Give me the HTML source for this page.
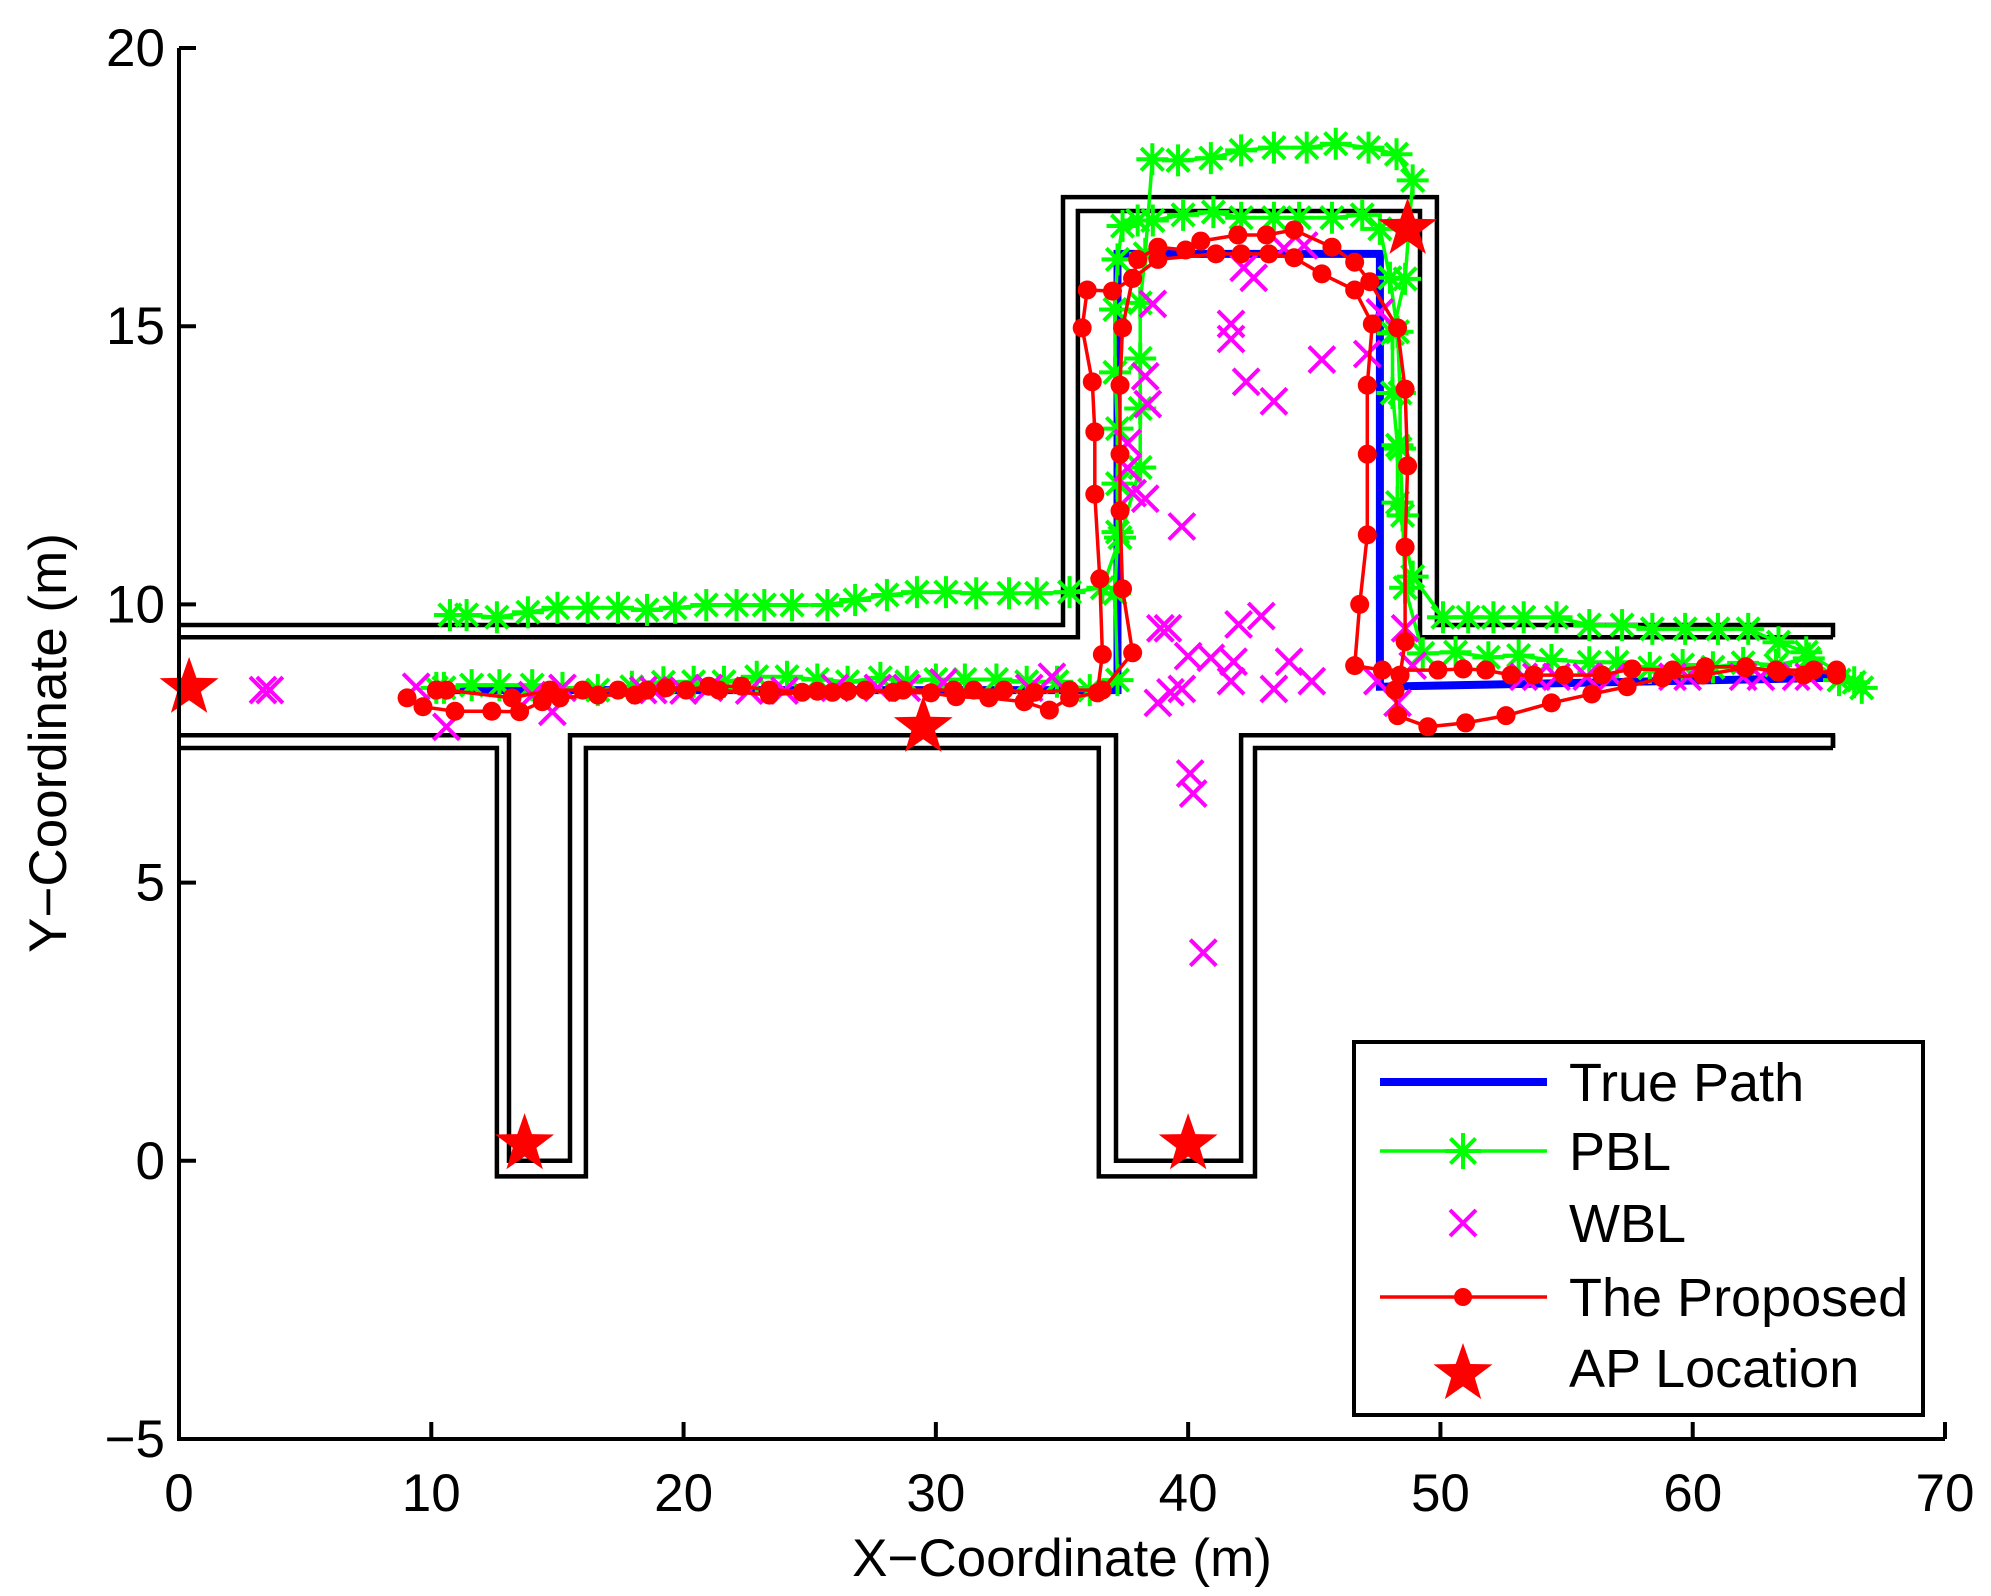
<!DOCTYPE html>
<html><head><meta charset="utf-8"><style>
html,body{margin:0;padding:0;background:#fff;}
svg{display:block;font-family:"Liberation Sans",Arial,sans-serif;}
</style></head><body>
<svg id="chart" width="1991" height="1596" viewBox="0 0 1991 1596" xmlns="http://www.w3.org/2000/svg">
<rect width="1991" height="1596" fill="#fff"/>
<g id="walls"></g>
<g id="series"></g>
<g id="axes"></g>
<g id="legend"></g>
</svg>
<script>
const xTicks=[0,10,20,30,40,50,60,70];
const yTicks=[-5,0,5,10,15,20];
const truePathX=[10,37.2,37.2,47.6,47.6,65.6];
const truePathY=[8.46,8.46,16.3,16.3,8.52,8.68];
const pblAX=[10.74,11.4,12.6,13.83,15.0,16.2,17.4,18.55,19.66,20.9,22.1,23.2,24.3,25.7,26.8,28.06,29.25,30.4,31.6,32.9,34.0,35.3,36.6,37.3,38.1,38.1,38.1,38.1,38.3,38.58,39.6,40.9,42.1,43.4,44.7,45.85,47.15,48.26,48.9,48.6,48.1,48.1,48.3,48.3,48.9,50.1,51.1,52.1,53.3,54.6,55.9,57.2,58.4,59.7,61.0,62.2,63.4,64.5,66.4];
const pblAY=[9.81,9.81,9.77,9.86,9.94,9.94,9.94,9.9,9.94,9.99,9.99,9.99,9.99,9.99,10.08,10.17,10.22,10.22,10.2,10.2,10.2,10.22,10.3,11.2,12.46,13.52,14.42,15.42,16.3,18.0,17.98,18.02,18.16,18.21,18.21,18.28,18.21,18.09,17.62,15.85,14.87,13.8,12.86,11.83,10.5,9.77,9.77,9.77,9.77,9.77,9.63,9.63,9.56,9.56,9.56,9.56,9.32,9.14,8.6];
const pblBX=[10.2,10.5,11.6,12.7,14.0,15.2,16.6,17.95,19.2,20.4,21.6,22.9,24.1,25.3,26.5,27.8,28.85,30.0,31.15,32.4,33.6,34.8,36.1,37.2,37.1,37.2,37.2,37.2,37.1,37.1,37.2,37.4,38.0,38.6,39.8,41.0,42.1,43.4,44.4,45.7,46.9,47.6,48.0,48.3,48.4,48.4,48.5,48.6,49.3,50.6,51.9,53.1,54.4,55.9,57.0,58.3,59.6,60.8,62.0,63.3,64.6,65.8,66.7];
const pblBY=[8.5,8.5,8.55,8.55,8.55,8.5,8.46,8.52,8.6,8.61,8.61,8.7,8.7,8.65,8.61,8.68,8.61,8.65,8.65,8.65,8.61,8.61,8.46,8.64,10.2,11.3,12.17,13.16,14.17,15.3,16.2,16.8,16.9,16.9,17.0,17.05,16.95,16.95,16.95,16.95,17.0,16.75,15.87,14.9,13.8,12.8,11.6,10.3,9.12,9.14,9.05,9.08,9.0,8.96,8.96,8.86,8.91,8.87,8.95,8.91,9.03,8.64,8.5];
const wblX=[3.33,3.6,9.4,10.6,14.0,14.8,15.2,18.4,18.8,20.0,21.0,22.6,24.0,26.0,27.7,28.85,30.3,33.7,34.6,38.9,38.8,39.3,38.6,38.3,38.4,37.6,37.6,37.8,38.3,39.75,41.7,41.7,42.3,43.4,45.3,47.1,42.6,42.2,43.8,44.6,47.6,39.2,42.0,42.9,40.0,40.9,41.8,44.0,44.9,39.75,41.7,43.4,48.6,48.9,47.5,48.3,40.08,40.2,40.6,53.3,53.8,54.6,55.8,56.8,59.2,59.8,62.0,62.7,64.1,64.6];
const wblY=[8.46,8.46,8.52,7.8,8.37,8.07,8.5,8.46,8.46,8.45,8.5,8.45,8.45,8.5,8.5,8.5,8.6,8.5,8.7,9.57,8.23,8.42,15.4,14.1,13.6,12.9,12.45,12.0,11.9,11.4,15.04,14.77,14.0,13.65,14.4,14.5,15.87,16.05,16.4,16.45,15.25,9.57,9.64,9.79,9.07,9.04,8.97,8.97,8.62,8.48,8.62,8.48,9.57,8.9,8.62,8.23,6.96,6.6,3.74,8.7,8.7,8.7,8.7,8.7,8.7,8.7,8.7,8.7,8.7,8.7];
const propAX=[9.04,9.67,10.94,12.4,13.5,14.4,15.1,16.6,18.07,19.3,21.4,23.4,24.7,25.9,27.2,28.3,29.8,30.8,32.1,33.5,34.5,35.3,36.4,36.6,36.5,36.3,36.3,36.2,35.8,36.0,37.0,37.8,38.0,38.8,39.9,40.5,41.97,43.1,44.2,45.7,46.6,47.2,48.3,48.6,48.7,48.6,48.6,48.4,48.2,48.3,49.5,51.0,52.6,54.4,56.0,57.4,58.8,60.4,62.1,63.3,64.8,65.7];
const propAY=[8.32,8.16,8.08,8.08,8.07,8.25,8.32,8.37,8.37,8.5,8.46,8.37,8.42,8.42,8.46,8.42,8.41,8.34,8.32,8.25,8.1,8.32,8.41,9.1,10.46,11.98,13.1,14.0,14.97,15.65,15.63,15.86,16.2,16.42,16.37,16.53,16.64,16.64,16.73,16.42,16.15,15.8,14.97,13.87,12.49,11.03,9.33,8.73,8.46,8.0,7.8,7.87,8.0,8.23,8.39,8.52,8.68,8.73,8.86,8.82,8.82,8.73];
const propBX=[10.2,10.6,13.2,14.7,16.0,17.4,18.55,20.1,21.0,22.3,23.4,25.3,26.5,28.7,30.7,31.5,32.7,33.9,35.3,36.6,37.8,37.4,37.3,37.3,37.3,37.4,37.8,38.8,41.1,42.1,43.2,44.2,45.3,46.6,47.3,47.1,47.1,47.1,46.8,46.6,47.7,49.9,50.9,51.8,52.8,53.7,54.9,56.4,57.6,59.2,60.5,62.1,63.4,64.4,65.7];
const propBY=[8.46,8.46,8.32,8.46,8.46,8.46,8.46,8.46,8.53,8.53,8.46,8.44,8.44,8.46,8.46,8.46,8.46,8.42,8.46,8.46,9.13,10.28,11.68,12.7,13.94,14.97,15.86,16.2,16.3,16.3,16.3,16.23,15.94,15.65,15.04,13.94,12.7,11.25,10.0,8.9,8.82,8.82,8.84,8.82,8.73,8.73,8.73,8.73,8.84,8.82,8.88,8.88,8.78,8.73,8.82];
const apX=[0.4,13.7,29.5,40.0,48.7];
const apY=[8.5,0.3,7.8,0.3,16.75];
const wallUpOuterX=[0,35.04,35.04,49.86,49.86,65.56,65.56];
const wallUpOuterY=[9.63,9.63,17.32,17.32,9.63,9.63,9.41];
const wallUpInnerX=[0,35.63,35.63,49.19,49.19,65.56];
const wallUpInnerY=[9.41,9.41,17.07,17.07,9.41,9.41];
const wallLowInnerX=[0,13.08,13.08,15.5,15.5,37.14,37.14,42.1,42.1,65.56,65.56];
const wallLowInnerY=[7.65,7.65,0,0,7.65,7.65,0,0,7.65,7.65,7.42];
const wallLowOuterX=[0,12.6,12.6,16.13,16.13,36.46,36.46,42.65,42.65,65.56];
const wallLowOuterY=[7.42,7.42,-0.28,-0.28,7.42,7.42,-0.28,-0.28,7.42,7.42];

const NS="http://www.w3.org/2000/svg";
const X0=179,X1=1945,Y0=1439,Y1=48;
function sx(v){return X0+(v-0)/(70-0)*(X1-X0);}
function sy(v){return Y0-(v+5)/(25)*(Y0-Y1);}
function mk(tag,attrs,parent){const e=document.createElementNS(NS,tag);for(const k in attrs)e.setAttribute(k,attrs[k]);parent.appendChild(e);return e;}
function pts(xs,ys){return xs.map((x,i)=>sx(x).toFixed(1)+","+sy(ys[i]).toFixed(1)).join(" ");}
const W=document.getElementById('walls'),S=document.getElementById('series'),A=document.getElementById('axes'),L=document.getElementById('legend');

[[wallUpOuterX,wallUpOuterY,'wall-upper-outer'],[wallUpInnerX,wallUpInnerY,'wall-upper-inner'],[wallLowInnerX,wallLowInnerY,'wall-lower-inner'],[wallLowOuterX,wallLowOuterY,'wall-lower-outer']].forEach(w=>{
 const p=mk('polyline',{points:pts(w[0],w[1]),fill:'none',stroke:'#000','stroke-width':4.5},W);
 
 
});
const ce=mk('line',{x1:sx(65.56),y1:sy(7.65),x2:sx(65.56),y2:sy(7.42),stroke:'#000','stroke-width':4.5},W);



const tp=mk('polyline',{points:pts(truePathX,truePathY),fill:'none',stroke:'#0000ff','stroke-width':8},S);



function asterisk(cx,cy,g,r){
 const d=`M${cx-r},${cy}H${cx+r}M${cx},${cy-r}V${cy+r}M${cx-r*0.7},${cy-r*0.7}L${cx+r*0.7},${cy+r*0.7}M${cx-r*0.7},${cy+r*0.7}L${cx+r*0.7},${cy-r*0.7}`;
 const p=mk('path',{d:d,stroke:'#00ff00','stroke-width':4,fill:'none'},g);
 
 
}
function cross(cx,cy,g,r){
 const p=mk('path',{d:`M${cx-r},${cy-r}L${cx+r},${cy+r}M${cx-r},${cy+r}L${cx+r},${cy-r}`,stroke:'#ff00ff','stroke-width':4,fill:'none'},g);
 
 
}
function star(cx,cy,g,R){
 let d='';for(let i=0;i<10;i++){const r=i%2?R*0.4:R;const a=-Math.PI/2+i*Math.PI/5;d+=(i?'L':'M')+(cx+r*Math.cos(a)).toFixed(1)+','+(cy+r*Math.sin(a)).toFixed(1);}
 const p=mk('path',{d:d+'Z',fill:'#ff0000',stroke:'none'},g);
 
 
}
[[pblAX,pblAY,'pbl-run-a'],[pblBX,pblBY,'pbl-run-b']].forEach(s=>{
 const g=mk('g',{},S);
 
 
 const l=mk('polyline',{points:pts(s[0],s[1]),fill:'none',stroke:'#00ff00','stroke-width':3.5},g);
 
 
 s[0].forEach((x,i)=>asterisk(sx(x),sy(s[1][i]),g,16));
});
const wg=mk('g',{},S);


wblX.forEach((x,i)=>cross(sx(x),sy(wblY[i]),wg,13));
[[propAX,propAY,'proposed-run-a'],[propBX,propBY,'proposed-run-b']].forEach(s=>{
 const g=mk('g',{},S);
 
 
 const l=mk('polyline',{points:pts(s[0],s[1]),fill:'none',stroke:'#ff0000','stroke-width':3.5},g);
 
 
 s[0].forEach((x,i)=>{const c=mk('circle',{cx:sx(x),cy:sy(s[1][i]),r:9.5,fill:'#ff0000'},g);
  
  });
});
const ag=mk('g',{},S);


apX.forEach((x,i)=>star(sx(x),sy(apY[i]),ag,31));

const ax=mk('path',{d:`M${X0},${Y1}V${Y0}H${X1}`,stroke:'#000','stroke-width':4,fill:'none'},A);


xTicks.forEach(t=>{
 const tk=mk('line',{x1:sx(t),y1:Y0,x2:sx(t),y2:Y0-17,stroke:'#000','stroke-width':4},A);
 
 
 const tx=mk('text',{x:sx(t),y:Y0+72,'font-size':53,'text-anchor':'middle',fill:'#000'},A);
 tx.textContent=t;
 
 
});
yTicks.forEach(t=>{
 const tk=mk('line',{x1:X0,y1:sy(t),x2:X0+17,y2:sy(t),stroke:'#000','stroke-width':4},A);
 
 
 const tx=mk('text',{x:X0-14,y:sy(t)+18,'font-size':53,'text-anchor':'end',fill:'#000'},A);
 tx.textContent=t<0?'\u2212'+(-t):t;
 
 
});
const xl=mk('text',{x:1062,y:1576,'font-size':53,'text-anchor':'middle',fill:'#000'},A);
xl.textContent='X\u2212Coordinate (m)';


const yl=mk('text',{x:0,y:0,'font-size':53,'text-anchor':'middle',fill:'#000',transform:'translate(66,743) rotate(-90)'},A);
yl.textContent='Y\u2212Coordinate (m)';



const lb=mk('rect',{x:1354,y:1042,width:569,height:373,fill:'#fff',stroke:'#000','stroke-width':4},L);


const legY=[1082,1151,1223,1297,1368];
const legT=['True Path','PBL','WBL','The Proposed','AP Location'];
const lx1=1380,lx2=1547,lc=1463;
const e0=mk('line',{x1:lx1,y1:legY[0],x2:lx2,y2:legY[0],stroke:'#0000ff','stroke-width':8},L);


const e1=mk('line',{x1:lx1,y1:legY[1],x2:lx2,y2:legY[1],stroke:'#00ff00','stroke-width':3.5},L);


asterisk(lc,legY[1],L,18);
cross(lc,legY[2],L,13);
const e3=mk('line',{x1:lx1,y1:legY[3],x2:lx2,y2:legY[3],stroke:'#ff0000','stroke-width':3.5},L);


const c3=mk('circle',{cx:lc,cy:legY[3],r:9,fill:'#ff0000'},L);


star(lc,legY[4]+6,L,31);
legT.forEach((t,i)=>{
 const tx=mk('text',{x:1569,y:legY[i]+19,'font-size':54,fill:'#000'},L);
 tx.textContent=t;
 
 
});
</script>
</body></html>
